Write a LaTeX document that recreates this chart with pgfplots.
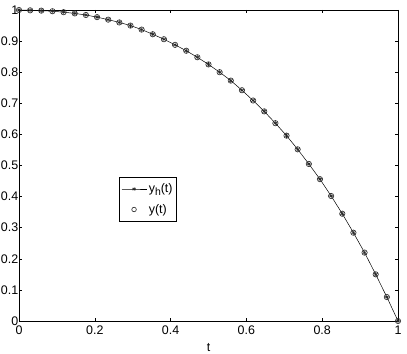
\documentclass[border=0pt]{standalone}
\usepackage{fontspec}
\setmainfont{Liberation Sans}
\usepackage{pgfplots}
\pgfplotsset{compat=1.18}
\pgfplotsset{
  starleg/.style={legend image code/.code={
    \draw[##1, mark repeat=2, mark phase=2, mark size=2pt]
      plot coordinates {(0bp,0bp) (12.5bp,0bp) (25bp,0bp)};}},
  circleg/.style={legend image code/.code={
    \draw[##1, mark size=2.3pt] plot coordinates {(12.5bp,0bp)};}},
}

\begin{document}
\begin{tikzpicture}[x=1bp,y=1bp]
\useasboundingbox (-19,-33) rectangle (388,321);
\begin{axis}[
  at={(0,0)}, anchor=south west,
  scale only axis,
  width=379bp, height=311bp,
  xmin=0, xmax=1, ymin=0, ymax=1,
  xtick={0,0.2,0.4,0.6,0.8,1},
  ytick={0,0.1,0.2,0.3,0.4,0.5,0.6,0.7,0.8,0.9,1},
  tick align=inside,
  major tick length=3.5bp,
  xtick pos=both, ytick pos=both,
  axis line style={line width=0.6pt},
  every tick/.style={black, line width=0.5pt},
  /pgf/number format/assume math mode=true,
  tick label style={font=\fontsize{12.5}{14}\selectfont},
  label style={font=\fontsize{12.5}{14}\selectfont},
  yticklabel style={inner xsep=0.5bp},
  xticklabel style={inner ysep=5bp},
  xlabel={t},
  xlabel style={yshift=0bp},
  legend style={at={(0.264,0.463)}, anchor=north west,
    font=\fontsize{12.5}{14}\selectfont, draw=black, line width=0.5pt,
    inner xsep=2bp, inner ysep=4.5bp, row sep=6bp},
  legend cell align=left,
]
% numerical solution y_h
\addplot[black, line width=0.5pt, mark=asterisk, mark size=2.3pt,
  mark options={black!85, line width=0.6pt}, starleg] coordinates {
  (0.00000,1.000) (0.02941,0.999) (0.05882,0.998) (0.08824,0.996)
  (0.11765,0.993) (0.14706,0.989) (0.17647,0.984) (0.20588,0.977)
  (0.23529,0.969) (0.26471,0.960) (0.29412,0.950) (0.32353,0.937)
  (0.35294,0.922) (0.38235,0.906) (0.41176,0.888) (0.44118,0.869)
  (0.47059,0.848) (0.50000,0.825) (0.52941,0.800) (0.55882,0.773)
  (0.58824,0.742) (0.61765,0.709) (0.64706,0.674) (0.67647,0.636)
  (0.70588,0.596) (0.73529,0.552) (0.76471,0.505) (0.79412,0.456)
  (0.82353,0.402) (0.85294,0.345) (0.88235,0.284) (0.91176,0.220)
  (0.94118,0.150) (0.97059,0.077) (1.00000,0.000)
};
\addlegendentry{y\raisebox{-3bp}{\fontsize{10.5}{11}\selectfont h}(t)}
% exact solution y
\addplot[only marks, mark=o, mark size=2.7pt,
  mark options={black!85, line width=0.6pt}, circleg] coordinates {
  (0.00000,1.000) (0.02941,0.999) (0.05882,0.998) (0.08824,0.996)
  (0.11765,0.993) (0.14706,0.989) (0.17647,0.984) (0.20588,0.977)
  (0.23529,0.969) (0.26471,0.960) (0.29412,0.950) (0.32353,0.937)
  (0.35294,0.922) (0.38235,0.906) (0.41176,0.888) (0.44118,0.869)
  (0.47059,0.848) (0.50000,0.825) (0.52941,0.800) (0.55882,0.773)
  (0.58824,0.742) (0.61765,0.709) (0.64706,0.674) (0.67647,0.636)
  (0.70588,0.596) (0.73529,0.552) (0.76471,0.505) (0.79412,0.456)
  (0.82353,0.402) (0.85294,0.345) (0.88235,0.284) (0.91176,0.220)
  (0.94118,0.150) (0.97059,0.077) (1.00000,0.000)
};
\addlegendentry{y(t)}
\end{axis}
\end{tikzpicture}
\end{document}
